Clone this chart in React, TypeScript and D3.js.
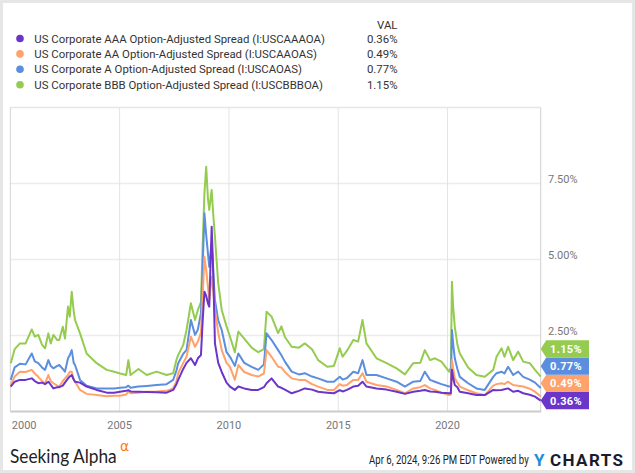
import React from 'react';
import * as d3 from 'd3';

// decimal years of each observation
const dates = [
  2000.02, 2000.2, 2000.44, 2000.7, 2000.98, 2001.12, 2001.28, 2001.45, 2001.59, 2001.74,
  2001.85, 2001.97, 2002.15, 2002.24, 2002.4, 2002.5, 2002.64, 2002.72, 2002.81, 2002.9,
  2002.96, 2003.19, 2003.49, 2003.95, 2004.41, 2004.75, 2005.02, 2005.3, 2005.4, 2005.5,
  2005.86, 2006.24, 2006.69, 2007.15, 2007.45, 2007.6, 2007.68, 2007.91, 2008.06, 2008.26,
  2008.45, 2008.58, 2008.72, 2008.8, 2008.88, 2008.96, 2009.04, 2009.1, 2009.21, 2009.28,
  2009.36, 2009.51, 2009.67, 2009.89, 2010.05, 2010.27, 2010.43, 2010.7, 2011.04, 2011.34,
  2011.6, 2011.72, 2011.95, 2012.25, 2012.4, 2012.56, 2012.87, 2013.2, 2013.47, 2013.8,
  2014.08, 2014.5, 2014.8, 2015.07, 2015.2, 2015.4, 2015.69, 2015.91, 2016.11, 2016.29,
  2016.75, 2017.21, 2017.67, 2018.05, 2018.43, 2018.75, 2018.96, 2019.2, 2019.42, 2019.72,
  2020.07, 2020.15, 2020.2, 2020.26, 2020.33, 2020.45, 2020.56, 2020.94, 2021.32, 2021.7,
  2022.09, 2022.24, 2022.47, 2022.6, 2022.77, 2023.0, 2023.23, 2023.46, 2023.76, 2024.0,
  2024.26,
];

const aaa = [
  0.82, 0.98, 1.04, 1.04, 1.09, 1.0, 0.93, 0.95, 0.9, 0.98,
  0.88, 0.76, 0.8, 0.8, 0.85, 0.95, 1.09, 1.15, 1.2, 1.05,
  0.98, 0.95, 0.82, 0.71, 0.62, 0.62, 0.65, 0.68, 0.7, 0.66,
  0.65, 0.64, 0.63, 0.62, 0.71, 0.9, 1.04, 1.4, 1.6, 1.75,
  1.53, 1.75, 1.86, 3.0, 3.94, 3.8, 3.56, 3.45, 6.08, 4.65,
  2.24, 1.6, 1.3, 0.95, 0.82, 0.71, 0.82, 0.76, 0.71, 0.71,
  0.8, 0.93, 1.09, 0.82, 0.78, 0.72, 0.6, 0.68, 0.76, 0.72,
  0.65, 0.62, 0.6, 0.7, 0.66, 0.71, 0.82, 0.85, 0.98, 0.82,
  0.76, 0.72, 0.65, 0.58, 0.65, 0.68, 0.71, 0.66, 0.65, 0.62,
  0.6, 0.6, 1.37, 1.1, 0.87, 0.8, 0.65, 0.6, 0.54, 0.54,
  0.71, 0.7, 0.71, 0.73, 0.76, 0.65, 0.68, 0.6, 0.55, 0.49,
  0.36,
];

const aa = [
  0.87, 1.15, 1.31, 1.3, 1.37, 1.25, 1.14, 1.0, 0.93, 1.2,
  1.0, 0.93, 0.85, 0.82, 1.0, 1.09, 1.2, 1.31, 1.31, 1.05,
  0.98, 0.71, 0.58, 0.54, 0.5, 0.52, 0.52, 0.56, 0.65, 0.6,
  0.62, 0.65, 0.66, 0.68, 0.76, 1.0, 1.26, 1.6, 1.8, 2.46,
  2.13, 2.3, 2.6, 3.8, 5.09, 4.65, 4.1, 3.67, 4.43, 4.0,
  3.34, 2.6, 2.02, 1.6, 1.47, 1.04, 1.53, 1.3, 1.2, 1.15,
  1.25, 2.02, 1.8, 1.47, 1.45, 1.3, 1.09, 1.04, 1.04, 0.9,
  0.82, 0.71, 0.71, 0.9, 0.85, 0.87, 1.04, 1.04, 1.26, 0.98,
  0.87, 0.82, 0.71, 0.6, 0.76, 0.8, 0.87, 0.76, 0.71, 0.62,
  0.54, 0.56, 1.69, 1.4, 1.09, 0.95, 0.82, 0.7, 0.6, 0.54,
  0.85, 0.9, 0.93, 0.9, 0.98, 0.87, 0.85, 0.82, 0.75, 0.65,
  0.49,
];

const singleA = [
  1.04, 1.45, 1.57, 1.55, 1.91, 1.65, 1.59, 1.45, 1.37, 1.69,
  1.5, 1.42, 1.5, 1.53, 1.4, 1.31, 1.75, 1.85, 2.02, 1.6,
  1.53, 1.04, 0.85, 0.76, 0.76, 0.76, 0.78, 0.8, 0.85, 0.78,
  0.82, 0.84, 0.87, 0.9, 1.04, 1.35, 1.59, 1.9, 2.02, 3.01,
  2.52, 2.7, 3.24, 4.8, 6.52, 5.8, 5.2, 4.76, 5.53, 4.6,
  3.67, 3.0, 2.68, 1.95, 1.8, 1.5, 1.91, 1.6, 1.47, 1.37,
  1.55, 2.57, 2.35, 2.02, 1.85, 1.64, 1.31, 1.22, 1.26, 1.15,
  1.09, 0.98, 0.98, 1.14, 1.05, 1.1, 1.31, 1.26, 1.69, 1.2,
  1.2, 1.09, 0.98, 0.82, 0.98, 1.0, 1.31, 1.04, 0.98, 0.9,
  0.82, 0.85, 2.68, 2.2, 1.75, 1.4, 1.14, 0.93, 0.76, 0.71,
  1.14, 1.26, 1.31, 1.25, 1.47, 1.2, 1.31, 1.14, 1.05, 0.95,
  0.77,
];

const bbb = [
  1.59, 2.05, 2.24, 2.24, 2.7, 2.46, 2.52, 2.2, 2.08, 2.57,
  2.24, 2.52, 2.35, 2.35, 2.79, 2.4, 3.45, 3.12, 3.94, 3.3,
  3.01, 2.57, 1.91, 1.59, 1.37, 1.31, 1.25, 1.2, 1.69, 1.2,
  1.4, 1.2, 1.31, 1.2, 1.26, 1.7, 1.86, 2.19, 2.68, 3.56,
  3.01, 3.34, 3.6, 5.5, 7.2, 8.05, 7.0, 6.63, 7.29, 6.5,
  5.75, 4.22, 3.34, 2.8, 2.46, 1.95, 2.63, 2.4, 2.1, 1.95,
  2.05, 3.28, 3.12, 2.58, 2.8, 2.45, 2.13, 2.1, 2.24, 2.05,
  1.69, 1.47, 1.5, 2.08, 1.8, 2.0, 2.35, 2.3, 3.01, 2.24,
  1.75, 1.59, 1.42, 1.22, 1.59, 1.6, 2.02, 1.69, 1.75, 1.64,
  1.31, 1.45, 4.27, 3.4, 2.79, 2.2, 1.91, 1.45, 1.2, 1.14,
  1.37, 1.8, 2.08, 1.8, 2.13, 1.69, 1.97, 1.64, 1.59, 1.37,
  1.15,
];

const seriesNames = [
  'US Corporate AAA Option-Adjusted Spread (I:USCAAAOA)',
  'US Corporate AA Option-Adjusted Spread (I:USCAAOAS)',
  'US Corporate A Option-Adjusted Spread (I:USCAOAS)',
  'US Corporate BBB Option-Adjusted Spread (I:USCBBBOA)',
];
const seriesColors = ['#6b35c9', '#ffa26b', '#5b8ede', '#95cb4f'];
const seriesValues = [aaa, aa, singleA, bbb];

const yTicks = [2.5, 5, 7.5];
const xTicks = [2000, 2005, 2010, 2015, 2020];

const W = 635;
const H = 473;
const plot = { left: 10.3, right: 540.7, top: 107.5, bottom: 411.5 };
const FONT = 'Roboto, "Noto Sans", sans-serif';

export default function App() {
  const x = d3.scaleLinear().domain([2000, 2024.26]).range([plot.left, plot.right]);
  const y = d3.scaleLinear().domain([0, 10]).range([plot.bottom, plot.top]);

  const line = d3
    .line<number>()
    .x((_, i) => x(dates[i]))
    .y((d) => y(d));

  // end-of-series flags, stacked upward so they don't overlap
  const tagH = 17.2;
  const last = seriesValues.map((s, i) => ({ i, v: s[s.length - 1] }));
  last.sort((a, b) => a.v - b.v);
  let prev = Infinity;
  const tags = last.map((t) => {
    const cy = Math.min(y(t.v), prev - tagH);
    prev = cy;
    return { ...t, cy };
  });

  const fmt = (v: number) => d3.format('.2f')(v) + '%';

  return (
    <svg
      width={W}
      height={H}
      style={{ position: 'absolute', left: 0, top: 0, background: '#fff' }}
      fontFamily={FONT}
    >
      <rect x={0} y={0} width={W} height={H} fill="#fff" stroke="#e6e6e6" strokeWidth={6} />

      {/* legend */}
      <text x={397.5} y={28.5} fontSize={11.4} fill="#333" textAnchor="end">VAL</text>
      {seriesNames.map((name, i) => {
        const cy = 38.5 + i * 15.4;
        const vals = seriesValues[i];
        return (
          <g key={name}>
            <circle cx={20} cy={cy} r={3.8} fill={seriesColors[i]} />
            <text x={34.3} y={cy + 4} fontSize={11.4} fill="#333">{name}</text>
            <text x={397.5} y={cy + 4} fontSize={11.4} fill="#333" textAnchor="end">
              {fmt(vals[vals.length - 1])}
            </text>
          </g>
        );
      })}

      {/* grid */}
      {yTicks.map((t) => (
        <line key={t} x1={plot.left} x2={plot.right} y1={y(t)} y2={y(t)} stroke="#ececec" strokeWidth={1.5} />
      ))}
      {xTicks.slice(1).map((t) => (
        <line key={t} x1={x(t)} x2={x(t)} y1={plot.top} y2={plot.bottom} stroke="#e3e3e3" strokeWidth={1} />
      ))}
      <line x1={plot.left} x2={plot.right} y1={plot.top} y2={plot.top} stroke="#e6e6e6" strokeWidth={1.5} />
      <line x1={plot.left} x2={plot.left} y1={plot.top} y2={plot.bottom} stroke="#d4d4d4" strokeWidth={1} />
      <line x1={plot.right} x2={plot.right} y1={plot.top} y2={plot.bottom + 1} stroke="#cfcfcf" strokeWidth={1} />

      {/* series, BBB underneath */}
      {seriesValues
        .map((s, i) => ({ s, i }))
        .reverse()
        .map(({ s, i }) => (
          <path
            key={i}
            d={line(s) || ''}
            fill="none"
            stroke={seriesColors[i]}
            strokeWidth={2}
            strokeLinejoin="round"
          />
        ))}

      <line x1={plot.left} x2={plot.right} y1={plot.bottom} y2={plot.bottom} stroke="#cccccc" strokeWidth={2} />

      {/* y axis labels */}
      {yTicks.map((t) => (
        <text key={t} x={548} y={y(t) - 1} fontSize={11} fill="#777">{fmt(t)}</text>
      ))}

      {/* x axis labels */}
      {xTicks.map((t, i) => (
        <text
          key={t}
          x={i === 0 ? x(t) + 1.5 : x(t)}
          y={429}
          fontSize={11}
          fill="#777"
          textAnchor={i === 0 ? 'start' : 'middle'}
        >
          {t}
        </text>
      ))}

      {/* value flags */}
      {tags.map((t) => {
        const x0 = plot.right;
        const h = tagH / 2;
        const d = `M${x0},${t.cy} L${x0 + 5.5},${t.cy - h} L589,${t.cy - h} L589,${t.cy + h} L${x0 + 5.5},${t.cy + h} Z`;
        return (
          <g key={t.i}>
            <path d={d} fill={seriesColors[t.i]} />
            <text
              x={566}
              y={t.cy + 4}
              fontSize={11}
              fontWeight={700}
              fill="#fff"
              textAnchor="middle"
              letterSpacing={0.3}
            >
              {fmt(t.v)}
            </text>
          </g>
        );
      })}

      {/* footer */}
      <g transform="translate(10,463) scale(0.91,1)">
        <text x={0} y={0} fontSize={19} fill="#222" fontFamily='Lato, "Open Sans", sans-serif'>
          Seeking Alpha
        </text>
      </g>
      <text x={120} y={451} fontSize={14} fill="#ff7a1a" fontFamily='"DejaVu Sans", sans-serif'>α</text>

      <g transform="translate(369,464) scale(0.8,1)">
        <text x={0} y={0} fontSize={12} fill="#222">
          Apr 6, 2024, 9:26 PM EDT Powered by
        </text>
      </g>
      <text x={534} y={465.5} fontSize={17} fontWeight={700} fill="#1f8ed9">Y</text>
      <text x={550} y={465.5} fontSize={17} fontWeight={700} fill="#1b1b2f" letterSpacing={1.4}>
        CHARTS
      </text>
    </svg>
  );
}
